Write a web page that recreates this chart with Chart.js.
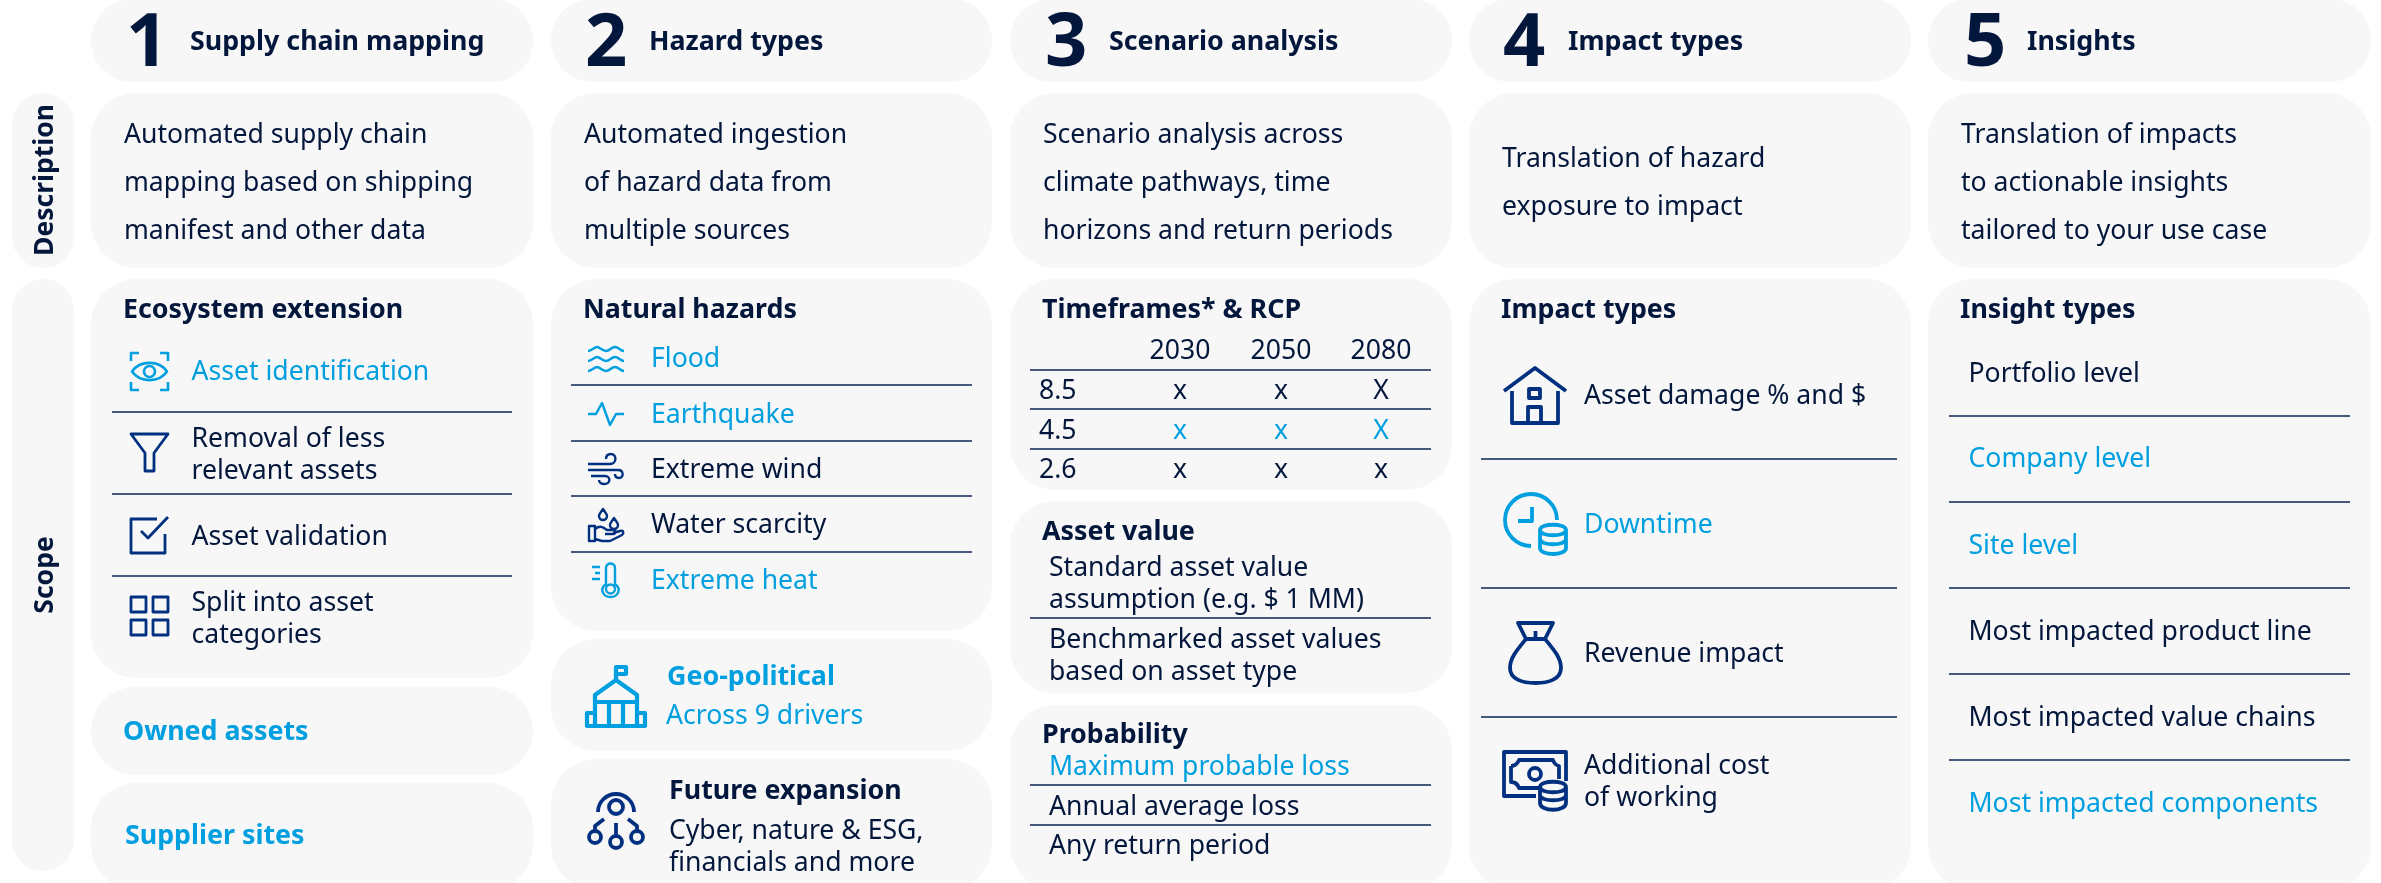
<!DOCTYPE html>
<html>
<head>
<meta charset="utf-8">
<title>Supply chain climate risk overview</title>
<script src="https://cdn.jsdelivr.net/npm/chart.js@4/dist/chart.umd.js"></script>
<style>
  html, body { margin: 0; padding: 0; background: #fff; }
  canvas { display: block; }
</style>
</head>
<body>
<canvas id="chart" width="2381" height="883"></canvas>
<script>
// ---- text content ----
const stepNumbers = ["1", "2", "3", "4", "5"];
const stepTitles = ["Supply chain mapping", "Hazard types", "Scenario analysis", "Impact types", "Insights"];
const rowTitles = ["Description", "Scope"];
const descriptions = [
  ["Automated supply chain", "mapping based on shipping", "manifest and other data"],
  ["Automated ingestion", "of hazard data from", "multiple sources"],
  ["Scenario analysis across", "climate pathways, time", "horizons and return periods"],
  ["Translation of hazard", "exposure to impact"],
  ["Translation of impacts", "to actionable insights", "tailored to your use case"]
];
const scopeHeadings = ["Ecosystem extension", "Natural hazards", "Timeframes* & RCP", "Impact types", "Insight types"];
const ecosystemItems = ["Asset identification", "Removal of less", "relevant assets", "Asset validation", "Split into asset", "categories"];
const sourceItems = ["Owned assets", "Supplier sites"];
const hazardItems = ["Flood", "Earthquake", "Extreme wind", "Water scarcity", "Extreme heat"];
const geoLines = ["Geo-political", "Across 9 drivers"];
const futureLines = ["Future expansion", "Cyber, nature & ESG,", "financials and more"];
const timeframes = ["2030", "2050", "2080"];
const rcpLevels = ["8.5", "4.5", "2.6"];
const rcpMarks = [["x", "x", "X"], ["x", "x", "X"], ["x", "x", "x"]];
const assetValueHeading = "Asset value";
const assetValueLines = ["Standard asset value", "assumption (e.g. $ 1 MM)", "Benchmarked asset values", "based on asset type"];
const probabilityHeading = "Probability";
const probabilityItems = ["Maximum probable loss", "Annual average loss", "Any return period"];
const impactItems = ["Asset damage % and $", "Downtime", "Revenue impact", "Additional cost", "of working"];
const insightItems = ["Portfolio level", "Company level", "Site level", "Most impacted product line", "Most impacted value chains", "Most impacted components"];

// ---- layout, in page pixels ----
const colLeft = [91, 551, 1010, 1469, 1928];
const colRight = [533, 992, 1452, 1911, 2371];
const digitX = [126, 585, 1045, 1503, 1964];
const titleX = [190, 649, 1109, 1568, 2027];
const descX = [124, 584, 1043, 1502, 1961];
const descY = [[143, 191, 239], [143, 191, 239], [143, 191, 239], [167, 215], [143, 191, 239]];
const headingX = [123, 583, 1042, 1501, 1960];

// top, bottom of the scope cards in each column
const scopeCards = [
  [[279, 678], [687, 775], [783, 890]],
  [[279, 631], [639, 751], [759, 890]],
  [[279, 490], [501, 693], [705, 890]],
  [[279, 890]],
  [[279, 890]]
];

const dividerRows = [
  { from: 112, to: 512, ys: [412, 494, 576] },
  { from: 571, to: 972, ys: [385, 441, 496, 552] },
  { from: 1030, to: 1431, ys: [370, 409, 449, 618, 785, 825] },
  { from: 1481, to: 1897, ys: [459, 588, 717] },
  { from: 1949, to: 2350, ys: [416, 502, 588, 674, 760] }
];

const NAVY = "#03163b";
const BLUE = "#009fdf";
const ICON_NAVY = "#00307f";
const CARD = "#f7f7f7";
const REGULAR = '26.6px "Noto Sans"';
const BOLD = 'bold 26.8px "Noto Sans"';

// icon outlines, local pixels from the icon's top-left corner
const icons = {
  eye: "M1 9V1H9M30 1H38V9M1 30V38H9M30 38H38V30M2 19.5C10 8 29 8 37 19.5C29 31 10 31 2 19.5ZM25 19.5A5.5 5.5 0 1 1 14 19.5A5.5 5.5 0 1 1 25 19.5Z",
  funnel: "M1 1H38L24 20V38H15V20Z",
  check: "M27 2H1V36H35V17M11 14L18 21L38 0",
  grid: "M1 1H16V16H1ZM23 1H38V16H23ZM1 24H16V39H1ZM23 24H38V39H23Z",
  flood: "M0 5C4 5 6 1 9 1S14 5 18 5S23 1 27 1S32 5 36 5M0 15C4 15 6 11 9 11S14 15 18 15S23 11 27 11S32 15 36 15M0 25C4 25 6 21 9 21S14 25 18 25S23 21 27 21S32 25 36 25",
  quake: "M0 12H8L14 1L22 23L28 12H36",
  wind: "M0 11H22C29 11 29 1 23 1C20 1 18 3 18 6M0 17H30C36 17 36 25 31 25C28 25 27 23 27 21M3 23H17C23 23 23 31 16 31C13 31 11 29 11 27",
  water: "M15 1C13 4 11 6 11 8A4 4 0 0 0 19 8C19 6 17 4 15 1ZM26 10C24 13 22 15 22 17A4 4 0 0 0 30 17C30 15 28 13 26 10ZM1 18H7V33H1ZM7 21C12 17 15 19 19 22H26C28 22 28 26 25 26H17M25 25L32 23C36 22 36 25 34 27L22 33H14L7 31",
  thermo: "M0 5H8M3 11H8M0 17H8M14 22V6C14 0 23 0 23 6V22C30 27 26 35 18.5 35C11 35 7 27 14 22ZM23 27A4.5 4.5 0 1 1 14 27A4.5 4.5 0 1 1 23 27Z",
  gov: "M31 14V1H41V8H31M10 29L31 14L52 29V36H10ZM10 36V60M52 36V60M24 36V60M38 36V60M10 47H2V60H60V47H52",
  network: "M11 25A18 18 0 1 1 47 25M36 20A7 7 0 1 1 22 20A7 7 0 1 1 36 20ZM8 44V39L17 32M29 49V36M50 44V39L41 32M14 50A6 6 0 1 1 2 50A6 6 0 1 1 14 50ZM35 55A6 6 0 1 1 23 55A6 6 0 1 1 35 55ZM56 50A6 6 0 1 1 44 50A6 6 0 1 1 56 50Z",
  house: "M1 24L32 1L63 24M9 24V56H55V24M26 22H37V31H26ZM25 56V40H38V56",
  clock: "M54 27A26 26 0 1 0 28 53M29 14V28H15M37 37C37 30 63 30 63 37C63 44 37 44 37 37ZM37 37V55C37 63 63 63 63 55V37M37 46C37 53 63 53 63 46",
  bag: "M9 1H44L36 17H17ZM26.5 9V17M17 17C8 28 1 36 1 46C1 57 13 61 26.5 61C40 61 52 57 52 46C52 36 45 28 36 17",
  money: "M33 45H1V1H63V30M8 15C14 15 15 11 16 9H50C51 12 52 14 56 15V28M36 37H16C15 34 13 31 8 31V15M38 23A6 6 0 1 1 26 23A6 6 0 1 1 38 23ZM37 36C37 29 63 29 63 36C63 43 37 43 37 36ZM37 36V52C37 61 63 61 63 52V36M37 44C37 51 63 51 63 44"
};

// name, x, y, colour, line width
const iconPlacements = [
  ["eye", 130, 352, BLUE, 2.6], ["funnel", 130, 433, ICON_NAVY, 2.8], ["check", 130, 517, ICON_NAVY, 2.8], ["grid", 130, 596, ICON_NAVY, 2.8],
  ["flood", 588, 346, BLUE, 2.4], ["quake", 588, 402, BLUE, 2.4], ["wind", 588, 453, ICON_NAVY, 2.4], ["water", 588, 508, ICON_NAVY, 2.4], ["thermo", 592, 562, BLUE, 2.4],
  ["gov", 585, 666, BLUE, 4.2], ["network", 587, 787, ICON_NAVY, 3.8],
  ["house", 1503, 367, ICON_NAVY, 3.8], ["clock", 1503, 493, BLUE, 3.8], ["bag", 1509, 622, ICON_NAVY, 3.8], ["money", 1503, 751, ICON_NAVY, 3.8]
];

// one line dataset per divider, placed through the x and y scales
const dividerDatasets = [];
dividerRows.forEach(function (row) {
  row.ys.forEach(function (y) {
    dividerDatasets.push({
      data: [{ x: row.from, y: y }, { x: row.to, y: y }],
      showLine: true,
      borderColor: "#0b2450",
      borderWidth: 1.6,
      pointRadius: 0
    });
  });
});

const infographic = {
  id: "infographic",
  beforeDatasetsDraw: function (chart) {
    const ctx = chart.ctx;
    const X = function (v) { return chart.scales.x.getPixelForValue(v); };
    const Y = function (v) { return chart.scales.y.getPixelForValue(v); };

    function card(x0, y0, x1, y1, r) {
      ctx.beginPath();
      ctx.roundRect(X(x0), Y(y0), X(x1) - X(x0), Y(y1) - Y(y0), r);
      ctx.fillStyle = CARD;
      ctx.fill();
    }

    card(12, 93, 74, 268, 31);
    card(12, 279, 74, 871, 31);
    colLeft.forEach(function (left, i) {
      card(left, -1, colRight[i], 82, 41);
      card(left, 93, colRight[i], 268, 45);
      scopeCards[i].forEach(function (c) {
        card(left, c[0], colRight[i], c[1], 45);
      });
    });
  },
  afterDatasetsDraw: function (chart) {
    const ctx = chart.ctx;
    const X = function (v) { return chart.scales.x.getPixelForValue(v); };
    const Y = function (v) { return chart.scales.y.getPixelForValue(v); };

    function label(text, x, y, font, color, align) {
      ctx.font = font || REGULAR;
      ctx.fillStyle = color || NAVY;
      ctx.textAlign = align || "left";
      ctx.textBaseline = "alphabetic";
      ctx.fillText(text, X(x), Y(y));
    }

    function sideLabel(text, x, y) {
      ctx.save();
      ctx.translate(X(x), Y(y));
      ctx.rotate(-Math.PI / 2);
      ctx.font = 'bold 26.5px "Noto Sans"';
      ctx.fillStyle = NAVY;
      ctx.textAlign = "center";
      ctx.textBaseline = "alphabetic";
      ctx.fillText(text, 0, 0);
      ctx.restore();
    }

    sideLabel(rowTitles[0], 53, 180);
    sideLabel(rowTitles[1], 53, 575);

    stepNumbers.forEach(function (n, i) {
      label(n, digitX[i], 66, 'bold 74px "Noto Sans"');
      label(stepTitles[i], titleX[i], 50, BOLD);
      descriptions[i].forEach(function (line, j) {
        label(line, descX[i], descY[i][j]);
      });
      label(scopeHeadings[i], headingX[i], 318, BOLD);
    });

    // column 1
    const ecoY = [380, 447, 479, 545, 611, 643];
    ecosystemItems.forEach(function (t, i) {
      label(t, 191.5, ecoY[i], REGULAR, i === 0 ? BLUE : NAVY);
    });
    label(sourceItems[0], 123, 740, BOLD, BLUE);
    label(sourceItems[1], 125, 844, BOLD, BLUE);

    // column 2
    const hazardY = [367, 423, 478, 533, 589];
    const hazardBlue = [true, true, false, false, true];
    hazardItems.forEach(function (t, i) {
      label(t, 651, hazardY[i], REGULAR, hazardBlue[i] ? BLUE : NAVY);
    });
    label(geoLines[0], 667, 685, BOLD, BLUE);
    label(geoLines[1], 666, 724, REGULAR, BLUE);
    label(futureLines[0], 669, 799, BOLD);
    label(futureLines[1], 669, 839);
    label(futureLines[2], 669, 871);

    // column 3 table
    const tableX = [1180, 1281, 1381];
    const tableY = [399, 439, 478];
    timeframes.forEach(function (t, i) {
      label(t, tableX[i], 359, REGULAR, NAVY, "center");
    });
    rcpLevels.forEach(function (t, r) {
      label(t, 1039, tableY[r]);
      rcpMarks[r].forEach(function (m, c) {
        label(m, tableX[c], tableY[r], REGULAR, r === 1 ? BLUE : NAVY, "center");
      });
    });
    label(assetValueHeading, 1042, 540, BOLD);
    const assetY = [576, 608, 648, 680];
    assetValueLines.forEach(function (t, i) {
      label(t, 1049, assetY[i]);
    });
    label(probabilityHeading, 1042, 743, BOLD);
    const probY = [775, 815, 854];
    probabilityItems.forEach(function (t, i) {
      label(t, 1049, probY[i], REGULAR, i === 0 ? BLUE : NAVY);
    });

    // column 4
    const impactY = [404, 533, 662, 774, 806];
    impactItems.forEach(function (t, i) {
      label(t, 1584, impactY[i], REGULAR, i === 1 ? BLUE : NAVY);
    });

    // column 5
    const insightY = [382, 467, 554, 640, 726, 812];
    const insightBlue = [false, true, true, false, false, true];
    insightItems.forEach(function (t, i) {
      label(t, 1968.5, insightY[i], REGULAR, insightBlue[i] ? BLUE : NAVY);
    });

    // icons
    iconPlacements.forEach(function (p) {
      ctx.save();
      ctx.translate(X(p[1]), Y(p[2]));
      ctx.strokeStyle = p[3];
      ctx.lineWidth = p[4];
      ctx.lineJoin = "round";
      ctx.stroke(new Path2D(icons[p[0]]));
      ctx.restore();
    });
  }
};

new Chart(document.getElementById("chart").getContext("2d"), {
  type: "scatter",
  data: { datasets: dividerDatasets },
  options: {
    responsive: false,
    animation: false,
    layout: { padding: 0 },
    plugins: { legend: { display: false }, tooltip: { enabled: false } },
    scales: {
      x: { type: "linear", min: 0, max: 2381, display: false },
      y: { type: "linear", min: 0, max: 883, reverse: true, display: false }
    }
  },
  plugins: [infographic]
});
</script>
</body>
</html>
